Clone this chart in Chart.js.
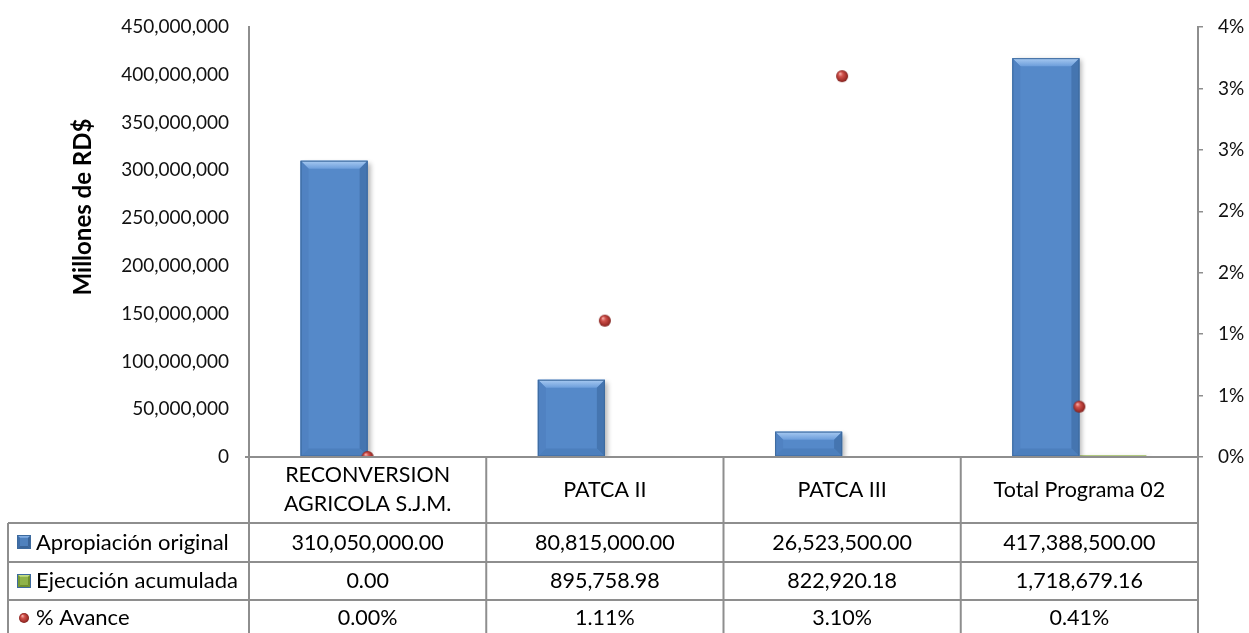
<!DOCTYPE html>
<html>
<head>
<meta charset="utf-8">
<script src="https://cdn.jsdelivr.net/npm/chart.js@4.4.1/dist/chart.umd.min.js"></script>
<style>
html,body{margin:0;padding:0;background:#fff;}
#wrap{width:1249px;height:633px;position:relative;overflow:hidden;}
canvas{display:block;}
</style>
</head>
<body>
<div id="wrap"><canvas id="c" width="1249" height="633"></canvas></div>
<script>
// ---- Data ----
const categories = [['RECONVERSION', 'AGRICOLA S.J.M.'], ['PATCA II'], ['PATCA III'], ['Total Programa 02']];
const seriesNames = ['Apropiación original', 'Ejecución acumulada', '% Avance'];
const apropiacion = [310050000.00, 80815000.00, 26523500.00, 417388500.00];
const ejecucion = [0.00, 895758.98, 822920.18, 1718679.16];
const avance = [0.0000, 0.0111, 0.0310, 0.0041];
const leftTickValues = [0, 50000000, 100000000, 150000000, 200000000, 250000000, 300000000, 350000000, 400000000, 450000000];
const rightTickLabels = ['0%', '1%', '1%', '2%', '2%', '3%', '3%', '4%'];
const yTitle = 'Millones de RD$';

// ---- Helpers ----
function withCommas(intStr) {
  return intStr.replace(/\B(?=(\d{3})+(?!\d))/g, ',');
}
function fmtMoney(v) {
  const s = v.toFixed(2);
  const [i, d] = s.split('.');
  return withCommas(i) + '.' + d;
}
function fmtInt(v) { return withCommas(Math.round(v).toString()); }
function fmtPct(v) { return (v * 100).toFixed(2) + '%'; }

const FONT = 'Lato, "Open Sans", sans-serif';
const LINE = '#8e8e8e';

function makeSphere(r) {
  const d = Math.ceil(r * 2) + 2;
  const s = document.createElement('canvas');
  s.width = d; s.height = d;
  const g = s.getContext('2d');
  const c = d / 2;
  const grad = g.createRadialGradient(c - r * 0.35, c - r * 0.45, r * 0.05, c, c, r);
  grad.addColorStop(0, '#f6b3ae');
  grad.addColorStop(0.35, '#d0524c');
  grad.addColorStop(0.8, '#a2302b');
  grad.addColorStop(1, '#7a1d1a');
  g.fillStyle = grad;
  g.beginPath(); g.arc(c, c, r, 0, Math.PI * 2); g.fill();
  return s;
}

function drawBevelRect(ctx, x0, y0, x1, y1, b, face, light, dark) {
  const w = x1 - x0, h = y1 - y0;
  if (w <= 0 || h <= 0) return;
  b = Math.min(b, w / 2, h / 2);
  ctx.fillStyle = face;
  ctx.fillRect(x0, y0, w, h);
  let g = ctx.createLinearGradient(0, y0, 0, y0 + b);
  g.addColorStop(0, light[0]); g.addColorStop(1, light[1]);
  ctx.fillStyle = g;
  ctx.beginPath(); ctx.moveTo(x0, y0); ctx.lineTo(x1, y0); ctx.lineTo(x1 - b, y0 + b); ctx.lineTo(x0 + b, y0 + b); ctx.closePath(); ctx.fill();
  ctx.fillStyle = dark[0];
  ctx.beginPath(); ctx.moveTo(x0, y0); ctx.lineTo(x0 + b, y0 + b); ctx.lineTo(x0 + b, y1 - b); ctx.lineTo(x0, y1); ctx.closePath(); ctx.fill();
  ctx.fillStyle = dark[1];
  ctx.beginPath(); ctx.moveTo(x1, y0); ctx.lineTo(x1 - b, y0 + b); ctx.lineTo(x1 - b, y1 - b); ctx.lineTo(x1, y1); ctx.closePath(); ctx.fill();
  ctx.fillStyle = dark[2];
  ctx.beginPath(); ctx.moveTo(x0, y1); ctx.lineTo(x0 + b, y1 - b); ctx.lineTo(x1 - b, y1 - b); ctx.lineTo(x1, y1); ctx.closePath(); ctx.fill();
  ctx.strokeStyle = '#3d6a9e';
  ctx.lineWidth = 1;
  ctx.strokeRect(x0 + 0.5, y0 + 0.5, w - 1, h - 1);
}

// ---- Plugins ----
const barStyle = {
  id: 'barStyle',
  beforeDatasetDraw(chart, args) {
    if (args.meta.type !== 'bar') return;
    const ctx = chart.ctx;
    ctx.save();
    ctx.shadowColor = 'rgba(0,0,0,0.3)';
    ctx.shadowBlur = 5;
    ctx.shadowOffsetX = 3;
    ctx.shadowOffsetY = 2;
  },
  afterDatasetDraw(chart, args) {
    if (args.meta.type !== 'bar') return;
    const ctx = chart.ctx;
    ctx.restore();
    if (args.index !== 0) return;
    ctx.save();
    args.meta.data.forEach(el => {
      const p = el.getProps(['x', 'y', 'base', 'width'], true);
      const x0 = p.x - p.width / 2, x1 = p.x + p.width / 2;
      drawBevelRect(ctx, x0, p.y, x1, p.base, 8, '#5589C9',
        ['#a9cbf2', '#6d9edb'], ['#5082c2', '#4575b0', '#4c7fbd']);
    });
    ctx.restore();
  }
};

const tablePlugin = {
  id: 'dataTable',
  afterDraw(chart) {
    const ctx = chart.ctx;
    const a = chart.chartArea;
    const xs = chart.scales.x;
    const n = categories.length;
    const catW = (a.right - a.left) / n;
    const bounds = [];
    for (let i = 0; i <= n; i++) bounds.push(a.left + i * catW);
    const top = a.bottom;
    const rowY = [top + 66, top + 105, top + 143, top + 181];
    const tableLeft = 8;
    const bottom = chart.height + 5;

    ctx.save();
    ctx.strokeStyle = LINE;
    ctx.lineWidth = 2;
    ctx.beginPath();
    ctx.moveTo(a.left - 4, top); ctx.lineTo(a.right, top);
    for (let r = 0; r < 3; r++) { ctx.moveTo(tableLeft, rowY[r]); ctx.lineTo(a.right, rowY[r]); }
    ctx.moveTo(tableLeft, rowY[0]); ctx.lineTo(tableLeft, bottom);
    bounds.forEach(x => { ctx.moveTo(x, top); ctx.lineTo(x, bottom); });
    ctx.stroke();

    ctx.fillStyle = '#000';
    ctx.font = '21.5px ' + FONT;
    ctx.textAlign = 'center';
    ctx.textBaseline = 'alphabetic';
    categories.forEach((lab, i) => {
      const cx = xs.getPixelForValue(i);
      if (lab.length === 1) {
        ctx.fillText(lab[0], cx, top + 40);
      } else {
        ctx.fillText(lab[0], cx, top + 25);
        ctx.fillText(lab[1], cx, top + 54);
      }
    });
    const rows = [apropiacion.map(fmtMoney), ejecucion.map(fmtMoney), avance.map(fmtPct)];
    const baselines = [rowY[0] + 27, rowY[1] + 26, rowY[2] + 25];
    rows.forEach((vals, r) => {
      vals.forEach((v, i) => {
        ctx.fillText(v, xs.getPixelForValue(i), baselines[r]);
      });
    });
    ctx.textAlign = 'left';
    ctx.font = '22px ' + FONT;
    seriesNames.forEach((name, r) => {
      ctx.fillStyle = '#000';
      ctx.fillText(name, 36, baselines[r]);
    });
    const k0y = rowY[0] + 12, k1y = rowY[1] + 12;
    drawBevelRect(ctx, 17, k0y, 31, k0y + 14, 3, '#4f81bd', ['#9cc1ec', '#6a9ad6'], ['#3f6ea9', '#3a6599', '#3a6599']);
    drawBevelRect(ctx, 17, k1y, 31, k1y + 14, 3, '#8fb34a', ['#d3e89b', '#b0cf6b'], ['#779a35', '#6f8f30', '#6f8f30']);
    const sp = makeSphere(5);
    ctx.drawImage(sp, 24 - sp.width / 2, rowY[2] + 18 - sp.height / 2);

    ctx.save();
    ctx.translate(91, 207);
    ctx.rotate(-Math.PI / 2);
    ctx.font = 'bold 24px ' + FONT;
    ctx.textAlign = 'center';
    ctx.textBaseline = 'alphabetic';
    ctx.fillStyle = '#000';
    ctx.fillText(yTitle, 0, 0);
    ctx.restore();

    ctx.restore();
  }
};

function build() {
  const sphere = makeSphere(6);
  const ctx = document.getElementById('c').getContext('2d');
  new Chart(ctx, {
    type: 'bar',
    data: {
      labels: categories,
      datasets: [
        {
          label: seriesNames[0], data: apropiacion, yAxisID: 'y', order: 1,
          backgroundColor: '#5589C9', borderWidth: 0,
          categoryPercentage: 0.565, barPercentage: 1.0
        },
        {
          label: seriesNames[1], data: ejecucion, yAxisID: 'y', order: 1,
          backgroundColor: '#9BBB59', borderWidth: 0,
          categoryPercentage: 0.565, barPercentage: 1.0
        },
        {
          type: 'line', label: seriesNames[2], data: avance, yAxisID: 'y1', order: 0,
          showLine: false, pointStyle: sphere, pointRadius: 6, pointHoverRadius: 6
        }
      ]
    },
    options: {
      responsive: false,
      animation: false,
      devicePixelRatio: 1,
      layout: { padding: { left: 0, right: 0, top: 27, bottom: 176 } },
      plugins: { legend: { display: false }, tooltip: { enabled: false } },
      scales: {
        x: { display: false },
        y: {
          position: 'left', min: 0, max: 450000000,
          afterBuildTicks(scale) { scale.ticks = leftTickValues.map(v => ({ value: v })); },
          afterFit(scale) { scale.width = 249; },
          grid: { display: true, drawOnChartArea: false, drawTicks: true, tickLength: 16, color: 'rgba(0,0,0,0)' },
          border: { display: true, color: LINE, width: 2 },
          ticks: { padding: 4, color: '#111', font: { family: FONT, size: 19 }, callback: v => fmtInt(v) }
        },
        y1: {
          position: 'right', min: 0, max: 0.035,
          ticks: {
            stepSize: 0.005, padding: 15, color: '#111', font: { family: FONT, size: 19 },
            callback: (v, i) => rightTickLabels[i]
          },
          afterFit(scale) { scale.width = 51; },
          grid: { drawOnChartArea: false, drawTicks: true, tickLength: 5, color: LINE, lineWidth: 1.5 },
          border: { display: true, color: LINE, width: 2 }
        }
      }
    },
    plugins: [barStyle, tablePlugin]
  });
}

if (document.fonts && document.fonts.load) {
  Promise.all([document.fonts.load('20px Lato'), document.fonts.load('bold 24px Lato')]).then(build, build);
} else { build(); }
</script>
</body>
</html>
